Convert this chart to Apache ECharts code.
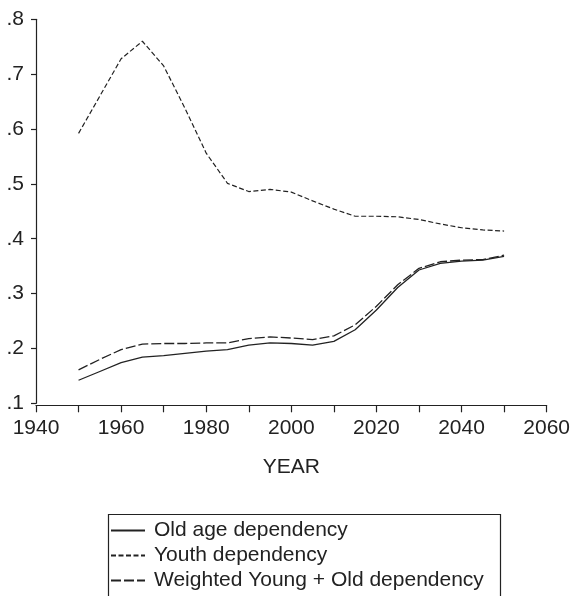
<!DOCTYPE html>
<html>
<head>
<meta charset="utf-8">
<script src="https://cdn.jsdelivr.net/npm/echarts@6/dist/echarts.min.js"></script>
<style>
html,body{margin:0;padding:0;background:#fff;}
#chart{width:573px;height:596px;}
</style>
</head>
<body>
<div id="chart"></div>
<script>
var years = [1950,1955,1960,1965,1970,1975,1980,1985,1990,1995,2000,2005,2010,2015,2020,2025,2030,2035,2040,2045,2050];
var oldAge = [0.142,0.158,0.174,0.184,0.187,0.191,0.195,0.198,0.206,0.210,0.209,0.206,0.213,0.234,0.270,0.311,0.343,0.355,0.359,0.361,0.368];
var youth = [0.592,0.660,0.728,0.760,0.715,0.638,0.556,0.501,0.486,0.490,0.485,0.469,0.454,0.441,0.441,0.440,0.435,0.427,0.420,0.416,0.414];
var weighted = [0.161,0.180,0.198,0.208,0.209,0.209,0.210,0.210,0.218,0.221,0.219,0.216,0.223,0.243,0.277,0.316,0.346,0.358,0.361,0.362,0.370];
var seriesNames = ['Old age dependency','Youth dependency','Weighted Young + Old dependency'];
var xTickLabels = [1940,1960,1980,2000,2020,2040,2060];

function pairs(vals){ return years.map(function(y,i){ return [y, vals[i]]; }); }

var ink = '#222';
var font = 'Liberation Sans, Arial, Helvetica, sans-serif';
var chart = echarts.init(document.getElementById('chart'));
chart.setOption({
  animation:false,
  backgroundColor:'#fff',
  grid:{left:36, right:24, top:19.3, bottom:192.7},
  graphic:[{
    type:'rect', left:106, top:512, z:0,
    shape:{width:392, height:120},
    style:{fill:'none', stroke:ink, lineWidth:1.2}
  }],
  xAxis:{
    type:'value', min:1940, max:2060, interval:10, offset:2,
    name:'YEAR', nameLocation:'middle', nameGap:51,
    nameTextStyle:{color:ink, fontSize:21, fontFamily:font},
    axisLine:{show:true, lineStyle:{color:ink, width:1.2}},
    axisTick:{show:true, length:7, lineStyle:{color:ink, width:1.2}},
    axisLabel:{color:ink, fontSize:21, fontFamily:font, margin:12,
      formatter:function(v){ return xTickLabels.indexOf(v) >= 0 ? String(v) : ''; }},
    splitLine:{show:false}
  },
  yAxis:{
    type:'value', min:0.1, max:0.8, interval:0.1,
    axisLine:{show:true, lineStyle:{color:ink, width:1.2}},
    axisTick:{show:true, length:5, lineStyle:{color:ink, width:1.2}},
    axisLabel:{color:ink, fontSize:21, fontFamily:font, margin:12,
      formatter:function(v){ return '.' + Math.round(v*10); }},
    splitLine:{show:false}
  },
  legend:{
    orient:'vertical', left:106, top:511,
    data:seriesNames,
    itemWidth:34, itemHeight:14, itemGap:4,
    padding:[9,15,0,4],
    itemStyle:{color:'rgba(0,0,0,0)', borderColor:'rgba(0,0,0,0)', borderWidth:0, opacity:0},
    textStyle:{color:ink, fontSize:21, fontFamily:font, padding:[0,0,0,4]},
    selectedMode:false
  },
  series:[
    {name:seriesNames[0], type:'line', data:pairs(oldAge), symbol:'none',
     lineStyle:{color:ink, width:1.3, type:'solid'}, itemStyle:{color:ink}},
    {name:seriesNames[1], type:'line', data:pairs(youth), symbol:'none',
     lineStyle:{color:ink, width:1.2, type:[5,2.5]}, itemStyle:{color:ink}},
    {name:seriesNames[2], type:'line', data:pairs(weighted), symbol:'none',
     lineStyle:{color:ink, width:1.3, type:[10,3]}, itemStyle:{color:ink}}
  ]
});
</script>
</body>
</html>
